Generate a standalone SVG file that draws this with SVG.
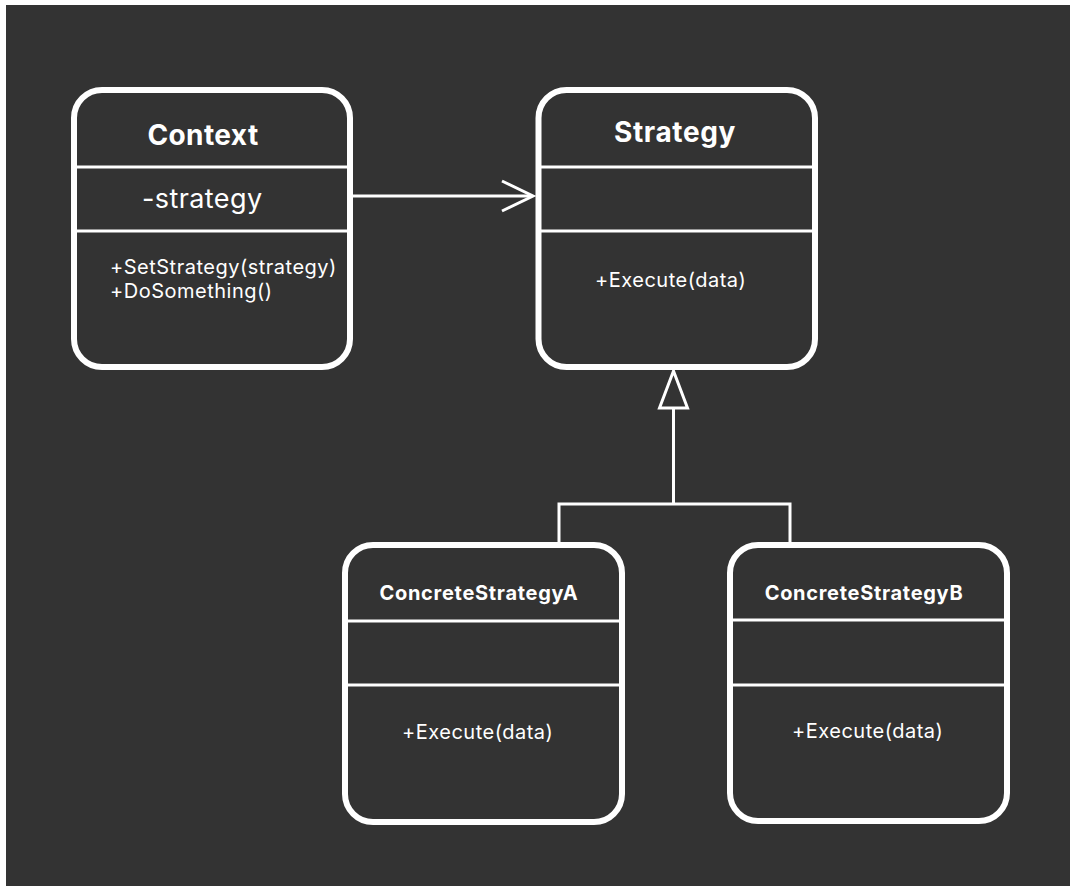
<svg xmlns="http://www.w3.org/2000/svg" width="1070" height="886" viewBox="0 0 1070 886">
<style>
.box{fill:#333333;stroke:#ffffff;stroke-width:6}
.div{stroke:#ffffff;stroke-width:3}
.conn{fill:none;stroke:#ffffff;stroke-width:3}
text{font-family:Inter,"Noto Sans","Liberation Sans",sans-serif;fill:#ffffff}
.title{font-weight:700}
.m{font-size:20px;letter-spacing:0.5px}
.ct{font-size:20px;letter-spacing:0.7px}
</style>
<rect x="0" y="0" width="1070" height="886" fill="#ffffff"/>
<rect x="6" y="5" width="1064" height="881" fill="#333333"/>
<g id="connectors">
<line class="conn" x1="353" y1="196" x2="532" y2="196"/>
<polyline class="conn" points="502,181 533,196 502,211"/>
<polyline class="conn" points="559,545 559,504 790,504 790,545"/>
<line class="conn" x1="673.5" y1="504" x2="673.5" y2="408"/>
<polygon points="673.5,371 659.5,408 687.5,408" fill="#333333" stroke="#ffffff" stroke-width="3" stroke-linejoin="miter"/>
</g>
<g id="context">
<rect class="box" x="74" y="90" width="276" height="277" rx="28"/>
<line class="div" x1="77" y1="167" x2="347" y2="167"/>
<line class="div" x1="77" y1="231" x2="347" y2="231"/>
<text class="title" x="203" y="145" font-size="28" letter-spacing="0.4" text-anchor="middle">Context</text>
<text x="142" y="208" font-size="27" letter-spacing="0.4">-strategy</text>
<text class="m" x="110" y="274">+SetStrategy(strategy)</text>
<text class="m" x="110" y="298">+DoSomething()</text>
</g>
<g id="strategy">
<rect class="box" x="538.5" y="90" width="276.5" height="277" rx="28"/>
<line class="div" x1="541" y1="167" x2="812" y2="167"/>
<line class="div" x1="541" y1="231" x2="812" y2="231"/>
<text class="title" x="675" y="142" font-size="28" letter-spacing="0.6" text-anchor="middle">Strategy</text>
<text class="m" x="595" y="287">+Execute(data)</text>
</g>
<g id="concreteA">
<rect class="box" x="345" y="545" width="277" height="277" rx="28"/>
<line class="div" x1="348" y1="621" x2="619" y2="621"/>
<line class="div" x1="348" y1="685" x2="619" y2="685"/>
<text class="title ct" x="479" y="600" text-anchor="middle">ConcreteStrategyA</text>
<text class="m" x="402" y="739">+Execute(data)</text>
</g>
<g id="concreteB">
<rect class="box" x="730" y="545" width="277" height="276" rx="28"/>
<line class="div" x1="733" y1="620" x2="1004" y2="620"/>
<line class="div" x1="733" y1="685" x2="1004" y2="685"/>
<text class="title ct" x="864" y="600" text-anchor="middle">ConcreteStrategyB</text>
<text class="m" x="792" y="738">+Execute(data)</text>
</g>
</svg>
